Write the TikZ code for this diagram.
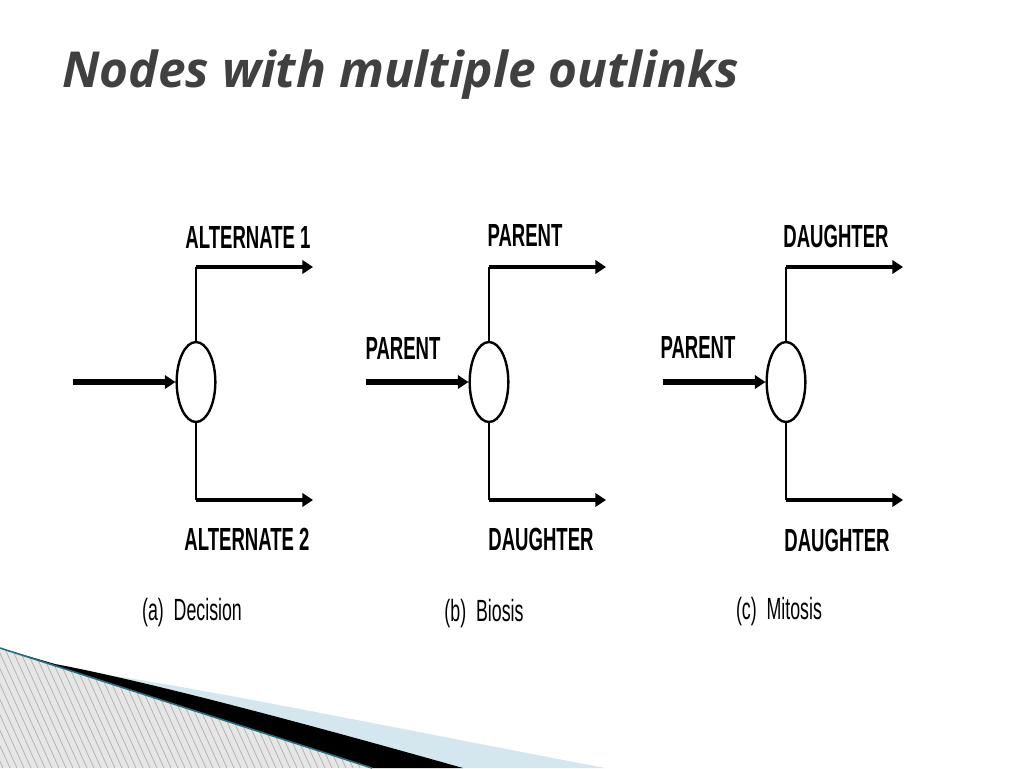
\documentclass[tikz,border=0pt]{standalone}
\usepackage{fontspec}
\usetikzlibrary{arrows.meta,shapes.geometric}
\newfontfamily\titlefont{Open Sans}
\newfontfamily\labelfont[FakeStretch=0.58]{Liberation Sans}
\definecolor{titlegray}{HTML}{404040}
\definecolor{hatchbg}{HTML}{E6E6E6}
\definecolor{hatchln}{HTML}{B4B4B4}
\definecolor{edgeteal}{HTML}{2A6F80}
\definecolor{paleblue}{HTML}{D4E6EE}

\tikzset{
  junction/.style={draw,ellipse,line width=1.8pt,minimum width=29pt,minimum height=60pt,inner sep=0pt},
  inlink/.style={line width=4pt,-{Triangle[length=8pt,width=10pt]}},
  stem/.style={line width=2.2pt},
  outlink/.style={line width=3.4pt,-{Triangle[length=8pt,width=10pt]}},
  flowlabel/.style={font=\labelfont\bfseries\fontsize{24}{26}\selectfont,inner sep=0pt},
  caption/.style={font=\labelfont\fontsize{23}{26}\selectfont,inner sep=0pt}
}

\begin{document}
\begin{tikzpicture}[x=0.75pt,y=-0.75pt]
\useasboundingbox (0,0) rectangle (1024,768);
\fill[white] (0,0) rectangle (1024,768);
%\draw[thin,gray,step=50] (0,0) grid (1024,768);

\node[anchor=base west,inner sep=0pt,text=titlegray,font=\titlefont\bfseries\itshape\fontsize{37.2}{44}\selectfont] (title) at (62,87) {Nodes with multiple outlinks};

% corner decoration
\begin{scope}
\clip (0,648) -- (372,768) -- (0,768) -- cycle;
\fill[hatchbg] (0,640) rectangle (380,768);
\foreach \x in {-300,-293,...,380}
  \draw[hatchln,line width=0.6pt] (\x,640) -- ++(58,128);
\end{scope}
\fill[paleblue] (95,673) .. controls (200,688) and (380,725) .. (605,768) -- (463,768) .. controls (300,722) and (150,682) .. (55,664) -- cycle;
\fill[black] (55,664) .. controls (150,682) and (300,722) .. (463,768) -- (372,768) -- (0,648) -- cycle;
\draw[edgeteal,line width=1.2pt] (0,648) -- (372,768);

% the three diagrams
\foreach \n/\cx in {a/196,b/489,c/786}{
  \node[junction] (\n) at (\cx,382) {};
  \coordinate (\n-in) at (\cx-123,382);
  \coordinate (\n-up) at (\cx,267);
  \coordinate (\n-dn) at (\cx,500);
  \coordinate (\n-upend) at (\cx+117,267);
  \coordinate (\n-dnend) at (\cx+117,500);
  \draw[inlink] (\n-in) -- (\n);
  \draw[stem] (\n) -- (\n-up);
  \draw[stem] (\n) -- (\n-dn);
  \draw[outlink] (\n-up) -- (\n-upend);
  \draw[outlink] (\n-dn) -- (\n-dnend);
}

\node[flowlabel] (a-toplbl) at (248,237) {ALTERNATE 1};
\node[flowlabel] (a-botlbl) at (247,539) {ALTERNATE 2};
\node[caption] (a-cap) at (192,613) {(a)\ \ Decision};

\node[flowlabel] (b-toplbl) at (525,235) {PARENT};
\node[flowlabel] (b-inlbl) at (403,348) {PARENT};
\node[flowlabel] (b-botlbl) at (541,539) {DAUGHTER};
\node[caption] (b-cap) at (484,614) {(b)\ \ Biosis};

\node[flowlabel] (c-toplbl) at (836,236) {DAUGHTER};
\node[flowlabel] (c-inlbl) at (698,347) {PARENT};
\node[flowlabel] (c-botlbl) at (837,540) {DAUGHTER};
\node[caption] (c-cap) at (779,612) {(c)\ \ Mitosis};
\end{tikzpicture}
\end{document}
